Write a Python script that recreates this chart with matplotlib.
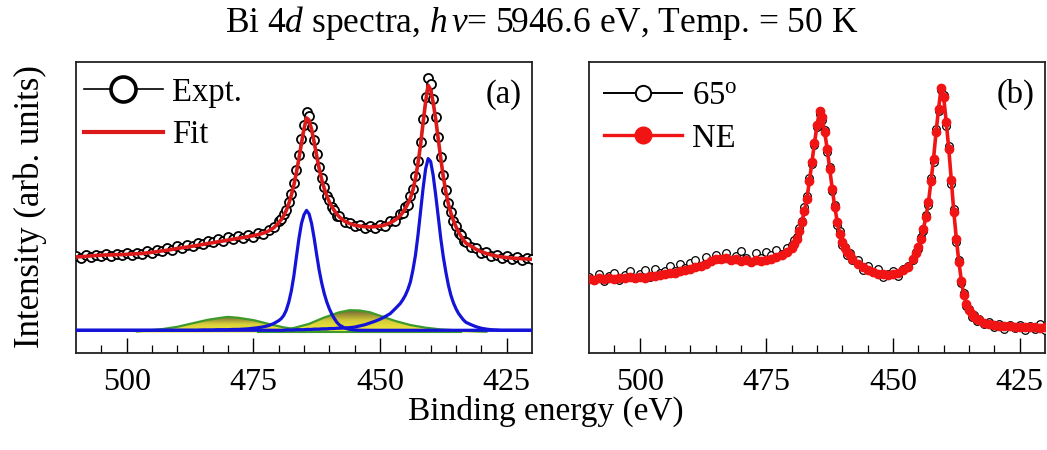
import numpy as np
import matplotlib
matplotlib.use("Agg")
import matplotlib.pyplot as plt
from matplotlib.lines import Line2D
from matplotlib.colors import LinearSegmentedColormap

plt.rcParams['font.family'] = ['Liberation Serif', 'DejaVu Serif']
plt.rcParams['mathtext.fontset'] = 'custom'
plt.rcParams['mathtext.rm'] = 'Liberation Serif'
plt.rcParams['mathtext.it'] = 'Liberation Serif:italic'

# binding energy grid (eV), denser around the two 4d peaks
energy = np.concatenate([np.arange(510, 470.5, -1.0), np.arange(470, 457.9, -0.5),
                         np.arange(457, 446.5, -1.0), np.arange(446, 432.9, -0.5),
                         np.arange(432, 419.5, -1.0)])

# (a) measured spectrum, arb. units
expt = [0.333, 0.327, 0.336, 0.330, 0.338, 0.333, 0.340, 0.334, 0.341, 0.336,
        0.343, 0.337, 0.345, 0.340, 0.349, 0.344, 0.353, 0.349, 0.360, 0.355,
        0.366, 0.361, 0.372, 0.366, 0.378, 0.373, 0.385, 0.380, 0.392, 0.386,
        0.397, 0.390, 0.402, 0.396, 0.406, 0.398, 0.412, 0.410, 0.424, 0.433,
        0.452, 0.461, 0.478, 0.493, 0.520, 0.548, 0.585, 0.628, 0.680, 0.735,
        0.785, 0.828, 0.815, 0.778, 0.732, 0.683, 0.640, 0.600, 0.570, 0.538,
        0.525, 0.500, 0.493, 0.472, 0.470,
        0.450, 0.448, 0.435, 0.440, 0.430, 0.437, 0.431, 0.440, 0.437, 0.452, 0.455,
        0.478, 0.480, 0.503, 0.510, 0.540, 0.562, 0.608, 0.660, 0.725, 0.805,
        0.878, 0.945, 0.925, 0.872, 0.812, 0.742, 0.675, 0.610, 0.560, 0.515,
        0.486, 0.452, 0.438, 0.413, 0.405, 0.385, 0.380,
        0.364, 0.360, 0.344, 0.346, 0.333, 0.338, 0.327, 0.333, 0.323, 0.330,
        0.321, 0.327, 0.324]

# (a) total fit
fit = [0.330, 0.331, 0.332, 0.334, 0.335, 0.336, 0.337, 0.337, 0.338, 0.338,
       0.339, 0.340, 0.341, 0.342, 0.344, 0.346, 0.348, 0.351, 0.353, 0.356,
       0.359, 0.362, 0.364, 0.367, 0.370, 0.373, 0.376, 0.379, 0.382, 0.385,
       0.388, 0.391, 0.394, 0.397, 0.400, 0.403, 0.407, 0.412, 0.419, 0.430,
       0.447, 0.458, 0.472, 0.490, 0.513, 0.542, 0.577, 0.620, 0.668, 0.721,
       0.770, 0.808, 0.800, 0.768, 0.725, 0.678, 0.633, 0.596, 0.565, 0.540,
       0.519, 0.503, 0.489, 0.477, 0.467,
       0.453, 0.445, 0.439, 0.436, 0.434, 0.433, 0.434, 0.436, 0.440, 0.447, 0.457,
       0.472, 0.483, 0.497, 0.513, 0.532, 0.560, 0.600, 0.652, 0.714, 0.790,
       0.862, 0.920, 0.905, 0.860, 0.803, 0.735, 0.668, 0.605, 0.553, 0.512,
       0.480, 0.455, 0.434, 0.416, 0.401, 0.388, 0.377,
       0.367, 0.356, 0.348, 0.342, 0.337, 0.333, 0.330, 0.328, 0.326, 0.325,
       0.324, 0.323, 0.322]

# (a) 4d3/2 and 4d5/2 components
peak_32 = [0.078] * 25 + [0.079, 0.079, 0.079, 0.080, 0.080, 0.080, 0.081, 0.081,
                          0.082, 0.083, 0.085, 0.087, 0.090, 0.094, 0.101] + \
          [0.111, 0.118, 0.129, 0.147, 0.175, 0.213, 0.265, 0.330, 0.393, 0.445,
           0.475, 0.490, 0.478, 0.445, 0.395, 0.338, 0.284, 0.240, 0.204, 0.175,
           0.152, 0.133, 0.118, 0.105, 0.096] + \
          [0.086, 0.081, 0.079] + [0.078] * 48
peak_52 = [0.078] * 40 + \
          [0.078, 0.078, 0.078, 0.079, 0.079, 0.079, 0.079, 0.080, 0.080, 0.080,
           0.080, 0.081, 0.081, 0.081, 0.082, 0.082, 0.082, 0.083, 0.083, 0.083,
           0.084, 0.084, 0.084, 0.085, 0.085] + \
          [0.086, 0.087, 0.089, 0.093, 0.097, 0.103, 0.109, 0.116, 0.125, 0.135, 0.152] + \
          [0.170, 0.183, 0.198, 0.218, 0.244, 0.285, 0.336, 0.405, 0.485, 0.565,
           0.632, 0.668, 0.658, 0.610, 0.542, 0.468, 0.393, 0.330, 0.278, 0.233,
           0.198, 0.172, 0.152, 0.136, 0.124, 0.113, 0.105] + \
          [0.097, 0.090, 0.085, 0.082, 0.080, 0.079, 0.078, 0.078, 0.078, 0.078,
           0.078, 0.078, 0.078]

# (a) broad satellite components
sat1_e = [498, 496, 493, 490, 487, 484, 481, 480, 478, 475, 472, 469, 466, 463, 460]
sat1 = [0.074, 0.077, 0.082, 0.090, 0.102, 0.114, 0.122, 0.124, 0.121, 0.113,
        0.100, 0.088, 0.080, 0.075, 0.073]
sat2_e = [472, 470, 467, 464, 461, 458, 456, 454, 452, 450, 447, 444, 441, 438, 435, 432, 429]
sat2 = [0.073, 0.076, 0.086, 0.100, 0.122, 0.140, 0.147, 0.146, 0.140, 0.128,
        0.110, 0.096, 0.087, 0.081, 0.078, 0.075, 0.073]
sat_base = 0.072

# (b) NE and 65 deg spectra
ne = [0.255, 0.252, 0.257, 0.254, 0.258, 0.255, 0.259, 0.256, 0.261, 0.258,
      0.262, 0.259, 0.265, 0.263, 0.268, 0.270, 0.274, 0.276, 0.282, 0.285,
      0.290, 0.296, 0.300, 0.307, 0.316, 0.324, 0.322, 0.327, 0.320, 0.323,
      0.317, 0.320, 0.314, 0.318, 0.316, 0.321, 0.323, 0.330, 0.336, 0.347,
      0.362, 0.375, 0.393, 0.418, 0.450, 0.488, 0.530, 0.592, 0.656, 0.722,
      0.782, 0.832, 0.812, 0.760, 0.702, 0.633, 0.565, 0.502, 0.450, 0.410,
      0.381, 0.362, 0.347, 0.335, 0.324,
      0.307, 0.294, 0.284, 0.279, 0.273, 0.270, 0.267, 0.270, 0.276, 0.284, 0.297,
      0.324, 0.342, 0.364, 0.393, 0.427, 0.468, 0.519, 0.590, 0.668, 0.760,
      0.840, 0.912, 0.878, 0.795, 0.702, 0.595, 0.485, 0.392, 0.313, 0.247,
      0.198, 0.168, 0.147, 0.134, 0.124, 0.117, 0.112,
      0.104, 0.099, 0.095, 0.094, 0.093, 0.092, 0.090, 0.089, 0.090, 0.088,
      0.089, 0.087, 0.089]
deg65 = [0.262, 0.250, 0.270, 0.248, 0.264, 0.275, 0.252, 0.268, 0.280, 0.258,
         0.272, 0.285, 0.262, 0.290, 0.275, 0.283, 0.298, 0.280, 0.305, 0.292,
         0.310, 0.318, 0.300, 0.330, 0.315, 0.338, 0.322, 0.345, 0.318, 0.332,
         0.350, 0.325, 0.312, 0.342, 0.328, 0.348, 0.335, 0.355, 0.340, 0.362,
         0.370, 0.388, 0.400, 0.430, 0.455, 0.500, 0.540, 0.600, 0.650, 0.715,
         0.775, 0.820, 0.800, 0.765, 0.690, 0.640, 0.555, 0.510, 0.440, 0.420,
         0.370, 0.365, 0.335, 0.345, 0.318,
         0.320, 0.285, 0.300, 0.278, 0.290, 0.262, 0.270, 0.282, 0.265, 0.290, 0.300,
         0.318, 0.348, 0.358, 0.400, 0.420, 0.475, 0.510, 0.600, 0.655, 0.770,
         0.830, 0.905, 0.885, 0.780, 0.710, 0.580, 0.495, 0.380, 0.320, 0.240,
         0.205, 0.160, 0.150, 0.125, 0.130, 0.110, 0.118,
         0.100, 0.108, 0.088, 0.100, 0.082, 0.097, 0.085, 0.095, 0.080, 0.092,
         0.084, 0.098, 0.080]

xticks = [500, 475, 450, 425]

fig = plt.figure(figsize=(10.47, 4.5), dpi=100)
ax_a = fig.add_axes([0.0726, 0.2156, 0.4355, 0.6467])
ax_b = fig.add_axes([0.5626, 0.2156, 0.4355, 0.6467])

sat_cmap = LinearSegmentedColormap.from_list('sat', ['#f2ec3a', '#d8cf3a', '#6f6434'])


def satellite(ax, e, y):
    poly = ax.fill_between(e, sat_base, y, color='#e8e23a', lw=0, zorder=2)
    grad = np.linspace(0, 1, 100).reshape(-1, 1)
    im = ax.imshow(grad, cmap=sat_cmap, origin='lower', aspect='auto',
                   extent=[max(e), min(e), sat_base, max(y)], zorder=2.1)
    im.set_clip_path(poly.get_paths()[0], transform=ax.transData)
    ax.plot(e, y, color='#3f9a2c', lw=1.6, zorder=2.2)


satellite(ax_a, sat1_e, sat1)
satellite(ax_a, sat2_e, sat2)
ax_a.plot([474, 434], [sat_base, sat_base], color='#3f9a2c', lw=1.5, zorder=2.2)
ax_a.plot(energy, peak_32, color='#1414d8', lw=2.3, zorder=3)
ax_a.plot(energy, peak_52, color='#1414d8', lw=2.3, zorder=3)
ax_a.plot(energy, expt, color='black', lw=1.0, marker='o', ms=6.5, mfc='white',
          mec='black', mew=1.3, zorder=4)
ax_a.plot(energy, fit, color='#dd1a1a', lw=2.6, zorder=5)

ax_b.plot(energy, deg65, color='black', lw=0.8, marker='o', ms=5.5, mfc='white',
          mec='black', mew=0.9, zorder=3)
ax_b.plot(energy, ne, color='#f01414', lw=2.6, marker='o', ms=6, mfc='#f01414',
          mec='#f01414', zorder=4)

for ax in (ax_a, ax_b):
    ax.set_xlim(510, 420)
    ax.set_ylim(0, 1)
    ax.set_xticks(xticks)
    ax.set_xticks(np.arange(505, 420, -5), minor=True)
    ax.set_yticks([])
    ax.tick_params(axis='x', which='major', direction='in', length=11, width=1.0,
                   labelsize=23, pad=11)
    ax.tick_params(axis='x', which='minor', direction='in', length=5.5, width=0.9)
    for s in ax.spines.values():
        s.set_linewidth(1.3)
        s.set_color('#222222')

h_a = [Line2D([], [], color='black', lw=1.2, marker='o', ms=18, mfc='white', mec='black', mew=2.6),
       Line2D([], [], color='#dd1a1a', lw=3)]
ax_a.legend(h_a, ['Expt.', 'Fit'], loc='upper left', bbox_to_anchor=(0.0, 0.975),
            frameon=False, fontsize=23.5, handlelength=2.4, handletextpad=0.3,
            labelspacing=0.36, borderpad=0.15, borderaxespad=0.1)
h_b = [Line2D([], [], color='black', lw=1.4, marker='o', ms=11, mfc='white', mec='black', mew=1.4),
       Line2D([], [], color='#f01414', lw=2.4, marker='o', ms=12, mfc='#f01414', mec='#f01414')]
ax_b.legend(h_b, ['65$^\\mathrm{o}$', 'NE'], loc='upper left', bbox_to_anchor=(0.0, 0.985),
            frameon=False, fontsize=23.5, handlelength=2.4, handletextpad=0.3,
            labelspacing=0.36, borderpad=0.15, borderaxespad=0.3)

ax_a.text(0.978, 0.887, '(a)', transform=ax_a.transAxes, ha='right', va='center', fontsize=23.5)
ax_b.text(0.978, 0.887, '(b)', transform=ax_b.transAxes, ha='right', va='center', fontsize=23.5)

fig.text(0.517, 0.948, 'Bi 4$\\mathit{d}$ spectra, $\\mathit{h\\,\\nu}$= 5946.6 eV, Temp. = 50 K',
         ha='center', va='center', fontsize=25.5)
fig.text(0.521, 0.085, 'Binding energy (eV)', ha='center', va='center', fontsize=24)
fig.text(0.029, 0.542, 'Intensity (arb. units)', rotation=90, ha='center', va='center', fontsize=25)

fig.savefig('out.png', dpi=100)
